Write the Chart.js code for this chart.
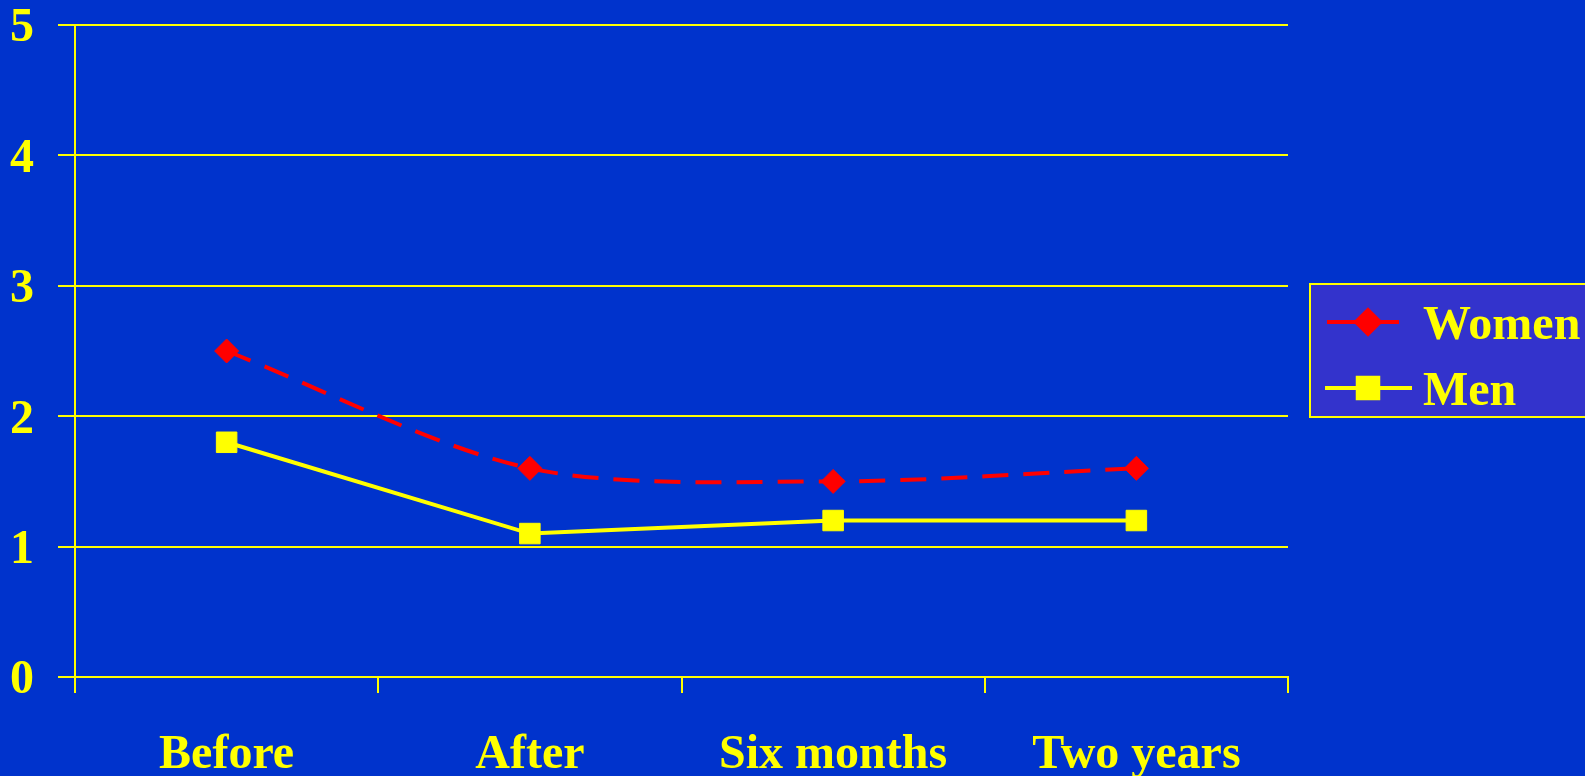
<!DOCTYPE html>
<html>
<head>
<meta charset="utf-8">
<script src="https://cdn.jsdelivr.net/npm/chart.js@4"></script>
<style>
  html, body { margin: 0; padding: 0; background: #0033CC; }
  #wrap { width: 1585px; height: 776px; }
</style>
</head>
<body>
<div id="wrap"><canvas id="chart" width="1585" height="776"></canvas></div>
<script>
const categories = ['Before', 'After', 'Six months', 'Two years'];
const women = [2.5, 1.6, 1.5, 1.6];
const men = [1.8, 1.1, 1.2, 1.2];
const yTicks = [0, 1, 2, 3, 4, 5];

const yellow = '#FFFF00';
const red = '#FF0000';
const labelFont = { family: '"Liberation Serif", "Times New Roman", serif', size: 48, weight: 'bold' };

// legend drawn as a boxed panel on the right
const boxLegend = {
    id: 'boxLegend',
    afterDraw(chart) {
        const ctx = chart.ctx;
        ctx.save();
        ctx.fillStyle = '#3333CC';
        ctx.fillRect(1310, 284, 290, 133);
        ctx.strokeStyle = yellow;
        ctx.lineWidth = 2;
        ctx.strokeRect(1310, 284, 290, 133);

        const rows = [
            { y: 322, x1: 1327, x2: 1399, ds: chart.data.datasets[0] },
            { y: 388, x1: 1325, x2: 1412, ds: chart.data.datasets[1] }
        ];
        rows.forEach(r => {
            ctx.strokeStyle = r.ds.borderColor;
            ctx.lineWidth = 4;
            ctx.beginPath();
            ctx.moveTo(r.x1, r.y);
            ctx.lineTo(r.x2, r.y);
            ctx.stroke();
            Chart.helpers.drawPoint(ctx, {
                pointStyle: r.ds.pointStyle,
                radius: r.ds.pointRadius,
                borderWidth: 1,
                rotation: 0
            }, 1368, r.y);
            ctx.fillStyle = r.ds.pointBackgroundColor;
            ctx.fill();
            ctx.fillStyle = yellow;
            ctx.font = 'bold 48px "Liberation Serif", serif';
            ctx.textBaseline = 'alphabetic';
            ctx.fillText(r.ds.label, 1423, r.y + 17);
        });
        ctx.restore();
    }
};

new Chart(document.getElementById('chart'), {
    type: 'line',
    data: {
        labels: categories,
        datasets: [{
            label: 'Women',
            data: women,
            borderColor: red,
            borderWidth: 4,
            borderDash: [26, 15],
            tension: 0.3,
            pointStyle: 'rectRot',
            pointRadius: 12,
            pointBackgroundColor: red,
            pointBorderColor: red,
            pointBorderWidth: 1
        }, {
            label: 'Men',
            data: men,
            borderColor: yellow,
            borderWidth: 4,
            tension: 0,
            pointStyle: 'rect',
            pointRadius: 14.5,
            pointBackgroundColor: yellow,
            pointBorderColor: yellow,
            pointBorderWidth: 1
        }]
    },
    options: {
        responsive: false,
        animation: false,
        layout: { padding: { top: 25, right: 297, bottom: 0, left: 0 } },
        plugins: { legend: { display: false }, tooltip: { enabled: false } },
        scales: {
            x: {
                offset: true,
                afterFit: s => { s.height = 99; s.paddingLeft = 0; s.paddingRight = 0; },
                grid: {
                    offset: true,
                    color: c => c.index === categories.length ? yellow : 'transparent',
                    tickColor: yellow,
                    tickLength: 16,
                    lineWidth: 2
                },
                border: { color: yellow, width: 2 },
                ticks: { color: yellow, font: labelFont, padding: 34, maxRotation: 0 }
            },
            y: {
                min: yTicks[0],
                max: yTicks[yTicks.length - 1],
                afterFit: s => { s.width = 75; s.paddingTop = 0; s.paddingBottom = 0; },
                afterBuildTicks: s => { s.ticks = yTicks.map(v => ({ value: v })); },
                grid: { color: yellow, tickColor: yellow, tickLength: 17, lineWidth: 2 },
                border: { color: yellow, width: 2 },
                ticks: { color: yellow, font: labelFont, padding: 24, labelOffset: 4 }
            }
        }
    },
    plugins: [boxLegend]
});
</script>
</body>
</html>
